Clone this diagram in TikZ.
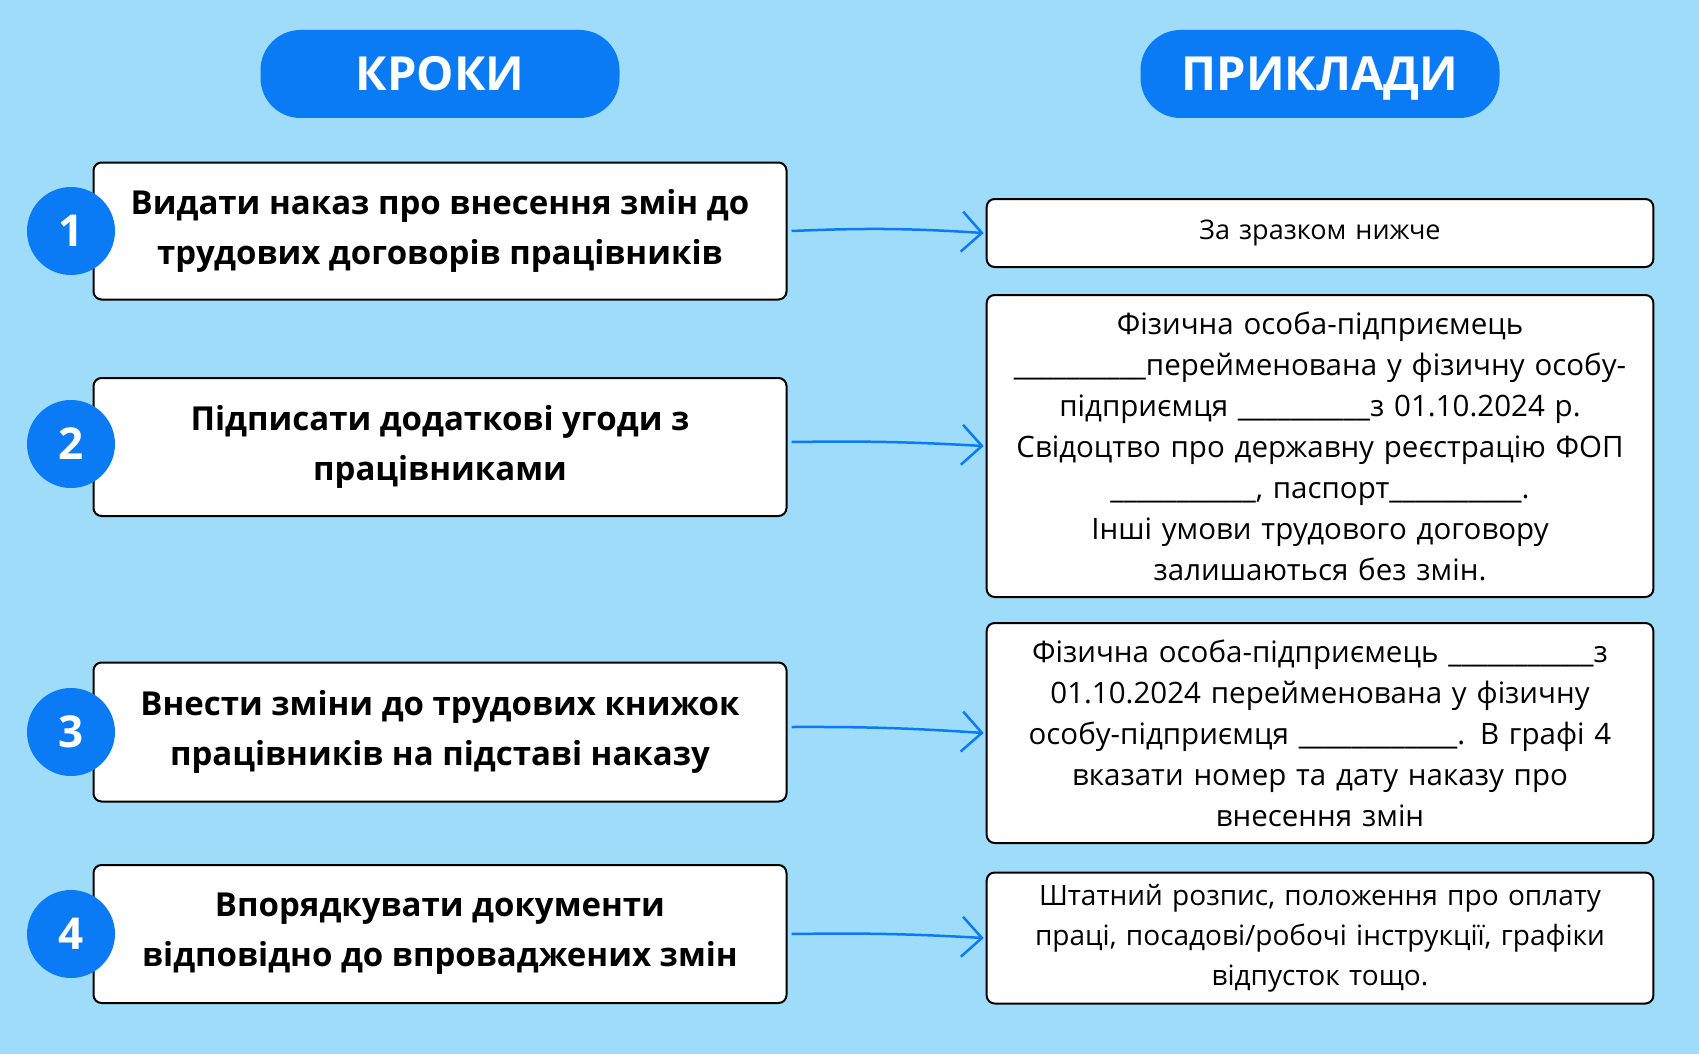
\documentclass[tikz,border=0pt]{standalone}
\usepackage{fontspec}
\setmainfont{Open Sans}
\usetikzlibrary{arrows.meta}
\definecolor{bg}{HTML}{9FDCFA}
\definecolor{pb}{HTML}{0A7BF5}
\begin{document}
\begin{tikzpicture}[x=1pt,y=-1pt,
 pill/.style={fill=pb,rounded corners=40pt,text=white,font=\fontsize{47}{50}\selectfont\bfseries,minimum width=359pt,minimum height=88pt,text height=34pt,text depth=0pt},
 stepbox/.style={draw=black,line width=2pt,fill=white,rounded corners=8pt,minimum width=693pt,align=center,font=\fontsize{33}{50}\selectfont\bfseries},
 exbox/.style={draw=black,line width=2pt,fill=white,rounded corners=8pt,minimum width=662pt,align=center,text width=660pt,font=\fontsize{29.5}{41}\selectfont},
 num/.style={circle,fill=pb,minimum size=88pt,text=white,font=\fontsize{44}{50}\selectfont\bfseries},
 arr/.style={draw=pb,line width=2.5pt,-{Straight Barb[length=20pt,width=40pt,line width=2.5pt]}}]
\fill[bg] (0,0) rectangle (1699,1054);
\useasboundingbox (0,0) rectangle (1699,1054);
\node[pill] (h1) at (440,74) {КРОКИ};
\node[pill] (h2) at (1320,74) {ПРИКЛАДИ};
\node[stepbox,minimum height=137pt] (s1) at (440,231) {Видати наказ про внесення змін до\\трудових договорів працівників};
\node[stepbox,minimum height=138pt] (s2) at (440,447) {Підписати додаткові угоди з\\працівниками};
\node[stepbox,minimum height=139pt] (s3) at (440,732) {Внести зміни до трудових книжок\\працівників на підставі наказу};
\node[stepbox,minimum height=138pt] (s4) at (440,934) {Впорядкувати документи\\відповідно до впроваджених змін};
\foreach \i/\y in {1/231,2/444,3/732,4/934}{\node[num] (c\i) at (71,\y) {\i};}
\node[exbox,minimum height=68pt,font=\fontsize{27}{41}\selectfont] (e1) at (1320,233) {За зразком нижче};
\node[exbox,minimum height=302pt] (e2) at (1320,446) {Фізична особа-підприємець\\\_\_\_\_\_\_\_\_\_\_перейменована у фізичну особу-\\підприємця \_\_\_\_\_\_\_\_\_\_з 01.10.2024 р.\\Свідоцтво про державну реєстрацію ФОП\\\_\_\_\_\_\_\_\_\_\_\_, паспорт\_\_\_\_\_\_\_\_\_\_.\\Інші умови трудового договору\\залишаються без змін.};
\node[exbox,minimum height=220pt] (e3) at (1320,733) {Фізична особа-підприємець \_\_\_\_\_\_\_\_\_\_\_з\\01.10.2024 перейменована у фізичну\\особу-підприємця \_\_\_\_\_\_\_\_\_\_\_\_. В графі 4\\вказати номер та дату наказу про\\внесення змін};
\node[exbox,minimum height=131pt,font=\fontsize{28}{40}\selectfont] (e4) at (1320,938) {Штатний розпис, положення про оплату\\праці, посадові/робочі інструкції, графіки\\відпусток тощо.};
\draw[arr] ([xshift=4pt,yshift=0pt]s1.east) to[bend left=3] ([xshift=-2pt]e1.west);
\draw[arr] ([xshift=4pt,yshift=5pt]s2.east) to[bend left=2] ([xshift=-2pt]e2.west);
\draw[arr] ([xshift=4pt,yshift=5pt]s3.east) to[bend left=2] ([xshift=-2pt]e3.west);
\draw[arr] ([xshift=4pt,yshift=0pt]s4.east) to[bend left=2] ([xshift=-2pt]e4.west);
\end{tikzpicture}
\end{document}
